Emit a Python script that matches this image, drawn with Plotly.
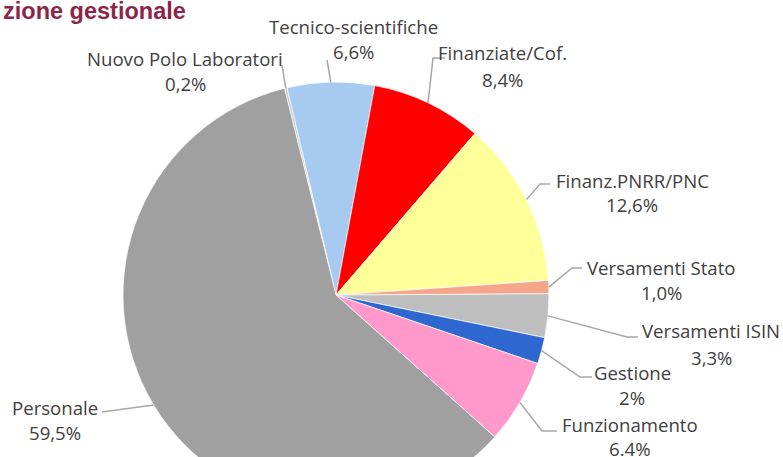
import math
import plotly.graph_objects as go

# slices, clockwise from the tiny one at 12 o'clock
labels = ["Nuovo Polo Laboratori", "Tecnico-scientifiche", "Finanziate/Cof.",
          "Finanz.PNRR/PNC", "Versamenti Stato", "Versamenti ISIN",
          "Gestione", "Funzionamento", "Personale"]
values = [0.2, 6.6, 8.4, 12.6, 1.0, 3.3, 2.0, 6.4, 59.5]
value_text = ["0,2%", "6,6%", "8,4%", "12,6%", "1,0%", "3,3%", "2%", "6.4%", "59,5%"]
colors = ["#C9C9C9", "#A6CAF0", "#FF0000", "#FFFF99", "#F4A58A",
          "#BEBEBE", "#2E67CF", "#FF99CC", "#A0A0A0"]

W, H = 783, 520          # figure taller than the window: pie gets cut at the bottom
CX, CY, R = 336, 295, 213
ROT = -14.0

# label layout (pixels): text centre x, name y, value y, elbow, line end
label_pos = [
    (185, 58, 84, (282, 65), (282, 65)),
    (353, 26, 52, (327, 60), (327, 60)),
    (502, 53, 79, (433, 58), (445, 58)),
    (632, 180, 205, (540, 184), (550, 184)),
    (661, 267, 292, (572, 268), (582, 268)),
    (711, 330, 357, (627, 337), (638, 337)),
    (632, 372, 397, (580, 377), (592, 377)),
    (630, 424, 448, (542, 431), (557, 431)),
    (55, 407, 432, (102, 412), (102, 412)),
]


def px(x):
    return x / W


def py(y):
    return 1 - y / H


fig = go.Figure(go.Pie(
    labels=labels, values=values, sort=False, direction="clockwise",
    rotation=ROT, textinfo="none", hoverinfo="label+percent",
    marker=dict(colors=colors, line=dict(color="rgba(255,255,255,0.7)", width=1)),
    domain=dict(x=[px(CX - R), px(CX + R)], y=[py(CY + R), py(CY - R)]),
    showlegend=False,
))

total = sum(values)
start = ROT
annotations = []
shapes = []
for i, v in enumerate(values):
    ang = start + 360 * v / total / 2
    start += 360 * v / total
    ax = CX + R * math.sin(math.radians(ang))
    ay = CY - R * math.cos(math.radians(ang))
    tx, ny, vy, elbow, end = label_pos[i]
    shapes.append(dict(
        type="path", xref="paper", yref="paper",
        path="M {} {} L {} {} L {} {}".format(px(ax), py(ay), px(elbow[0]), py(elbow[1]),
                                              px(end[0]), py(end[1])),
        line=dict(color="#A6A6A6", width=1.5),
    ))
    for txt, yy in ((labels[i], ny), (value_text[i], vy)):
        annotations.append(dict(
            x=px(tx), y=py(yy), xref="paper", yref="paper", text=txt,
            showarrow=False, xanchor="center", yanchor="middle",
            font=dict(family="Open Sans", size=18.6, color="#404040"),
        ))

annotations.append(dict(
    x=px(1), y=py(11), xref="paper", yref="paper", text="<b>zione gestionale</b>",
    showarrow=False, xanchor="left", yanchor="middle",
    font=dict(family="Liberation Sans", size=23.5, color="#8C2548"),
))

fig.update_layout(
    width=W, height=H, margin=dict(l=0, r=0, t=0, b=0),
    paper_bgcolor="white", plot_bgcolor="white",
    annotations=annotations, shapes=shapes,
)

fig.write_html("out.html", config={"displayModeBar": False},
               post_script="document.body.style.margin='0';")
